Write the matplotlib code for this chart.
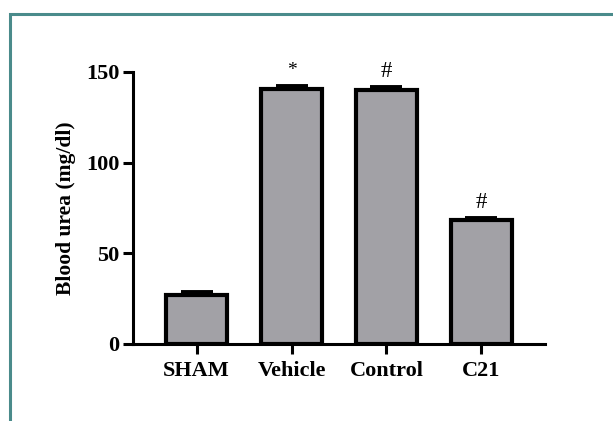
import matplotlib
matplotlib.use('Agg')
import matplotlib.pyplot as plt
import matplotlib.patches as patches

plt.rcParams['font.family'] = ['Liberation Serif', 'DejaVu Serif']

# data
groups = ['SHAM', 'Vehicle', 'Control', 'C21']
means = [27.2, 140.4, 140.0, 68.1]
sems = [1.3, 2.0, 1.5, 1.6]
marks = ['', '*', '#', '#']

fig = plt.figure(figsize=(6.13, 4.21), dpi=100)
ax = fig.add_axes([0.217, 0.183, 0.672, 0.646])

x = list(range(len(groups)))
ax.bar(x, means, width=0.64, color='#a2a1a6', edgecolor='black', linewidth=3, zorder=2)
ax.errorbar(x, means, yerr=[[0] * len(sems), sems], fmt='none', ecolor='black',
            elinewidth=2.5, capsize=11.5, capthick=2.8, zorder=3)

# significance marks above the bars
for xi, m, s, mk in zip(x, means, sems, marks):
    if not mk:
        continue
    fs = 14 if mk == '*' else 16.5
    ax.text(xi, m + s + 8.5, mk, ha='center', va='center', fontsize=fs)

ax.set_xlim(-0.67, 3.67)
ax.set_ylim(0, 150)
ax.set_yticks([0, 50, 100, 150])
ax.set_xticks(x)
ax.set_xticklabels(groups)

for side in ['top', 'right']:
    ax.spines[side].set_visible(False)
for side in ['left', 'bottom']:
    ax.spines[side].set_linewidth(2.2)

ax.tick_params(axis='both', width=2.2, length=7.5, labelsize=16)
ax.tick_params(axis='y', pad=2.5)
ax.tick_params(axis='x', pad=5)
for lbl in ax.get_xticklabels() + ax.get_yticklabels():
    lbl.set_fontweight('bold')

ax.set_ylabel('Blood urea (mg/dl)', fontsize=15.5, fontweight='bold', labelpad=7)

# teal frame around the figure (right and bottom sides fall outside the image)
frame = patches.Rectangle((0.0158, -0.1), 1.2, 0.9656 + 0.1, transform=fig.transFigure,
                          fill=False, edgecolor='#4a8b8b', linewidth=2.2, clip_on=False)
fig.add_artist(frame)

fig.savefig('out.png', dpi=100)
